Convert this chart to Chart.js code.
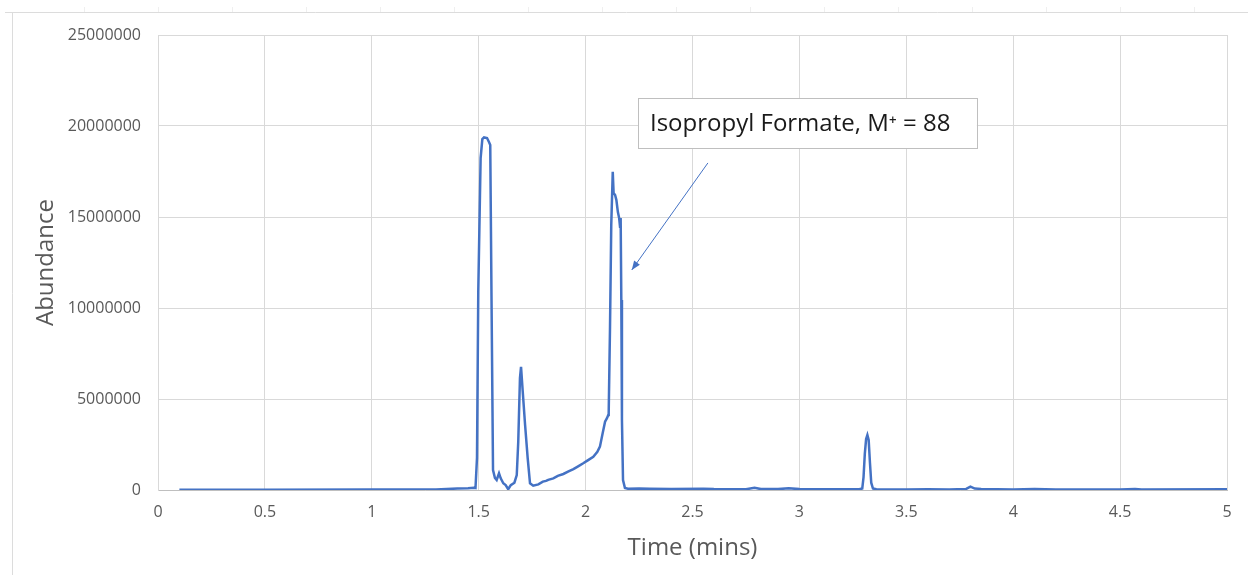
<!DOCTYPE html>
<html>
<head>
<meta charset="utf-8">
<script src="https://cdn.jsdelivr.net/npm/chart.js@4.4.1/dist/chart.umd.min.js"></script>
<style>
  html, body { margin: 0; padding: 0; background: #ffffff; }
  #wrap { position: relative; width: 1248px; height: 575px; }
  canvas { display: block; }
</style>
</head>
<body>
<div id="wrap"><canvas id="c" width="1248" height="575"></canvas></div>
<script>
// ---- Data ----
const times = [
  0.10, 0.50, 1.00, 1.30, 1.35, 1.40, 1.45, 1.478, 1.485, 1.492, 1.498, 1.509, 1.517, 1.525, 1.539, 1.548, 1.554,
  1.560, 1.567, 1.576, 1.584, 1.595, 1.603, 1.615, 1.626, 1.638, 1.650, 1.667, 1.678, 1.685, 1.693, 1.698,
  1.706, 1.717, 1.729, 1.740, 1.755, 1.779, 1.800, 1.815, 1.825, 1.849, 1.870, 1.896, 1.920, 1.943, 1.965,
  1.989, 2.010, 2.036, 2.055, 2.067, 2.080, 2.091, 2.100, 2.106, 2.108, 2.114, 2.120, 2.127, 2.131, 2.138,
  2.144, 2.151, 2.157, 2.161, 2.164, 2.167, 2.170, 2.175, 2.184, 2.198, 2.250, 2.300, 2.400, 2.550, 2.600,
  2.750, 2.790, 2.820, 2.900, 2.950, 3.000, 3.100, 3.200, 3.280, 3.294, 3.300, 3.306, 3.312, 3.318, 3.324,
  3.330, 3.336, 3.344, 3.360, 3.500, 3.600, 3.700, 3.780, 3.800, 3.820, 3.850, 4.000, 4.100, 4.200, 4.500,
  4.570, 4.600, 5.000
];
const abundance = [
  20000, 20000, 22000, 30000, 50000, 80000, 100000, 120000, 110000, 1760000, 10900000, 18240000, 19280000, 19370000, 19340000, 19120000, 18960000,
  10440000, 1100000, 660000, 550000, 920000, 640000, 370000, 270000, 40000, 270000, 400000, 820000, 2650000, 6150000, 6770000,
  5400000, 3570000, 1760000, 370000, 240000, 310000, 460000, 500000, 560000, 640000, 780000, 880000, 1020000, 1150000, 1300000,
  1470000, 1630000, 1830000, 2100000, 2380000, 3130000, 3750000, 3950000, 4120000, 4200000, 8800000, 14560000, 17490000, 16320000, 16210000,
  15930000, 15270000, 14940000, 14470000, 14940000, 10440000, 3850000, 550000, 110000, 70000, 80000, 70000, 50000, 70000, 50000,
  40000, 120000, 50000, 50000, 90000, 50000, 40000, 40000, 40000, 80000, 700000, 2000000, 2800000, 3020000, 2750000,
  1500000, 400000, 80000, 40000, 30000, 40000, 30000, 60000, 180000, 80000, 60000, 30000, 50000, 30000, 30000,
  60000, 30000, 40000
];
const xTicks = [0, 0.5, 1, 1.5, 2, 2.5, 3, 3.5, 4, 4.5, 5];
const yTicks = [0, 5000000, 10000000, 15000000, 20000000, 25000000];
const xTitle = 'Time (mins)';
const yTitle = 'Abundance';
const noteText = 'Isopropyl Formate, M\u207A = 88';

const points = times.map((t, i) => ({ x: t, y: abundance[i] }));

// annotation placed in data units
const note = { x0: 2.245, x1: 3.83, yTop: 21540000, yBot: 18790000,
               ax0: 2.572, ay0: 17970000, ax1: 2.216, ay1: 12090000 };

const frame = {
  id: 'frame',
  beforeDraw(chart) {
    const ctx = chart.ctx;
    ctx.save();
    ctx.strokeStyle = '#dcdcdc';
    ctx.lineWidth = 1;
    ctx.beginPath();
    ctx.moveTo(5, 12.5); ctx.lineTo(1248, 12.5);
    ctx.moveTo(12.5, 12.5); ctx.lineTo(12.5, 575);
    ctx.stroke();
    ctx.strokeStyle = '#efefef';
    ctx.beginPath();
    for (let x = 84; x < 1248; x += 74) { ctx.moveTo(x + 0.5, 7); ctx.lineTo(x + 0.5, 12); }
    ctx.stroke();
    ctx.restore();
  }
};

const annot = {
  id: 'annot',
  afterDatasetsDraw(chart) {
    const ctx = chart.ctx, xs = chart.scales.x, ys = chart.scales.y;
    const bx0 = xs.getPixelForValue(note.x0), bx1 = xs.getPixelForValue(note.x1);
    const by0 = ys.getPixelForValue(note.yTop), by1 = ys.getPixelForValue(note.yBot);
    ctx.save();
    const ax0 = xs.getPixelForValue(note.ax0), ay0 = ys.getPixelForValue(note.ay0);
    const ax1 = xs.getPixelForValue(note.ax1), ay1 = ys.getPixelForValue(note.ay1);
    ctx.strokeStyle = '#4472c4';
    ctx.fillStyle = '#4472c4';
    ctx.lineWidth = 1;
    ctx.beginPath(); ctx.moveTo(ax0, ay0); ctx.lineTo(ax1, ay1); ctx.stroke();
    const ang = Math.atan2(ay1 - ay0, ax1 - ax0);
    const L = 9, W = 3.5;
    ctx.beginPath();
    ctx.moveTo(ax1, ay1);
    ctx.lineTo(ax1 - L * Math.cos(ang) + W * Math.sin(ang), ay1 - L * Math.sin(ang) - W * Math.cos(ang));
    ctx.lineTo(ax1 - L * Math.cos(ang) - W * Math.sin(ang), ay1 - L * Math.sin(ang) + W * Math.cos(ang));
    ctx.closePath(); ctx.fill();
    ctx.fillStyle = '#ffffff';
    ctx.fillRect(bx0, by0, bx1 - bx0, by1 - by0);
    ctx.strokeStyle = '#bfbfbf';
    ctx.strokeRect(Math.round(bx0) + 0.5, Math.round(by0) + 0.5, Math.round(bx1 - bx0), Math.round(by1 - by0));
    ctx.fillStyle = '#1a1a1a';
    ctx.font = '24px "Open Sans", sans-serif';
    ctx.textBaseline = 'middle';
    ctx.textAlign = 'left';
    ctx.fillText(noteText, bx0 + 12, (by0 + by1) / 2 + 1);
    ctx.restore();
  }
};

new Chart(document.getElementById('c'), {
  type: 'line',
  data: {
    datasets: [{
      data: points,
      borderColor: '#4472c4',
      borderWidth: 2.5,
      pointRadius: 0,
      tension: 0,
      fill: false
    }]
  },
  options: {
    responsive: false,
    animation: false,
    events: [],
    layout: { padding: { top: 35, right: 21, bottom: 0, left: 0 } },
    plugins: { legend: { display: false }, tooltip: { enabled: false } },
    scales: {
      x: {
        type: 'linear', min: 0, max: 5,
        afterBuildTicks(s) { s.ticks = xTicks.map(v => ({ value: v })); },
        afterFit(s) { s.height = 85; },
        grid: { color: '#d9d9d9', drawTicks: false, lineWidth: 1 },
        border: { color: '#bfbfbf', width: 1 },
        ticks: { color: '#595959', font: { family: '"Open Sans", sans-serif', size: 16 }, padding: 13, maxRotation: 0, autoSkip: false, callback: v => String(v) },
        title: { display: true, text: xTitle, color: '#595959', font: { family: '"Open Sans", sans-serif', size: 24 }, padding: { top: 0, bottom: 12.6 } }
      },
      y: {
        type: 'linear', min: 0, max: 25000000,
        afterBuildTicks(s) { s.ticks = yTicks.map(v => ({ value: v })); },
        afterFit(s) { s.width = 158; },
        grid: { color: '#d9d9d9', drawTicks: false, lineWidth: 1 },
        border: { color: '#d9d9d9', width: 1 },
        ticks: { color: '#595959', font: { family: '"Open Sans", sans-serif', size: 16 }, padding: 17, callback: v => String(v) },
        title: { display: true, text: yTitle, color: '#595959', font: { family: '"Open Sans", sans-serif', size: 24 }, padding: { top: 31.6, bottom: 0 } }
      }
    }
  },
  plugins: [frame, annot]
});
</script>
</body>
</html>
